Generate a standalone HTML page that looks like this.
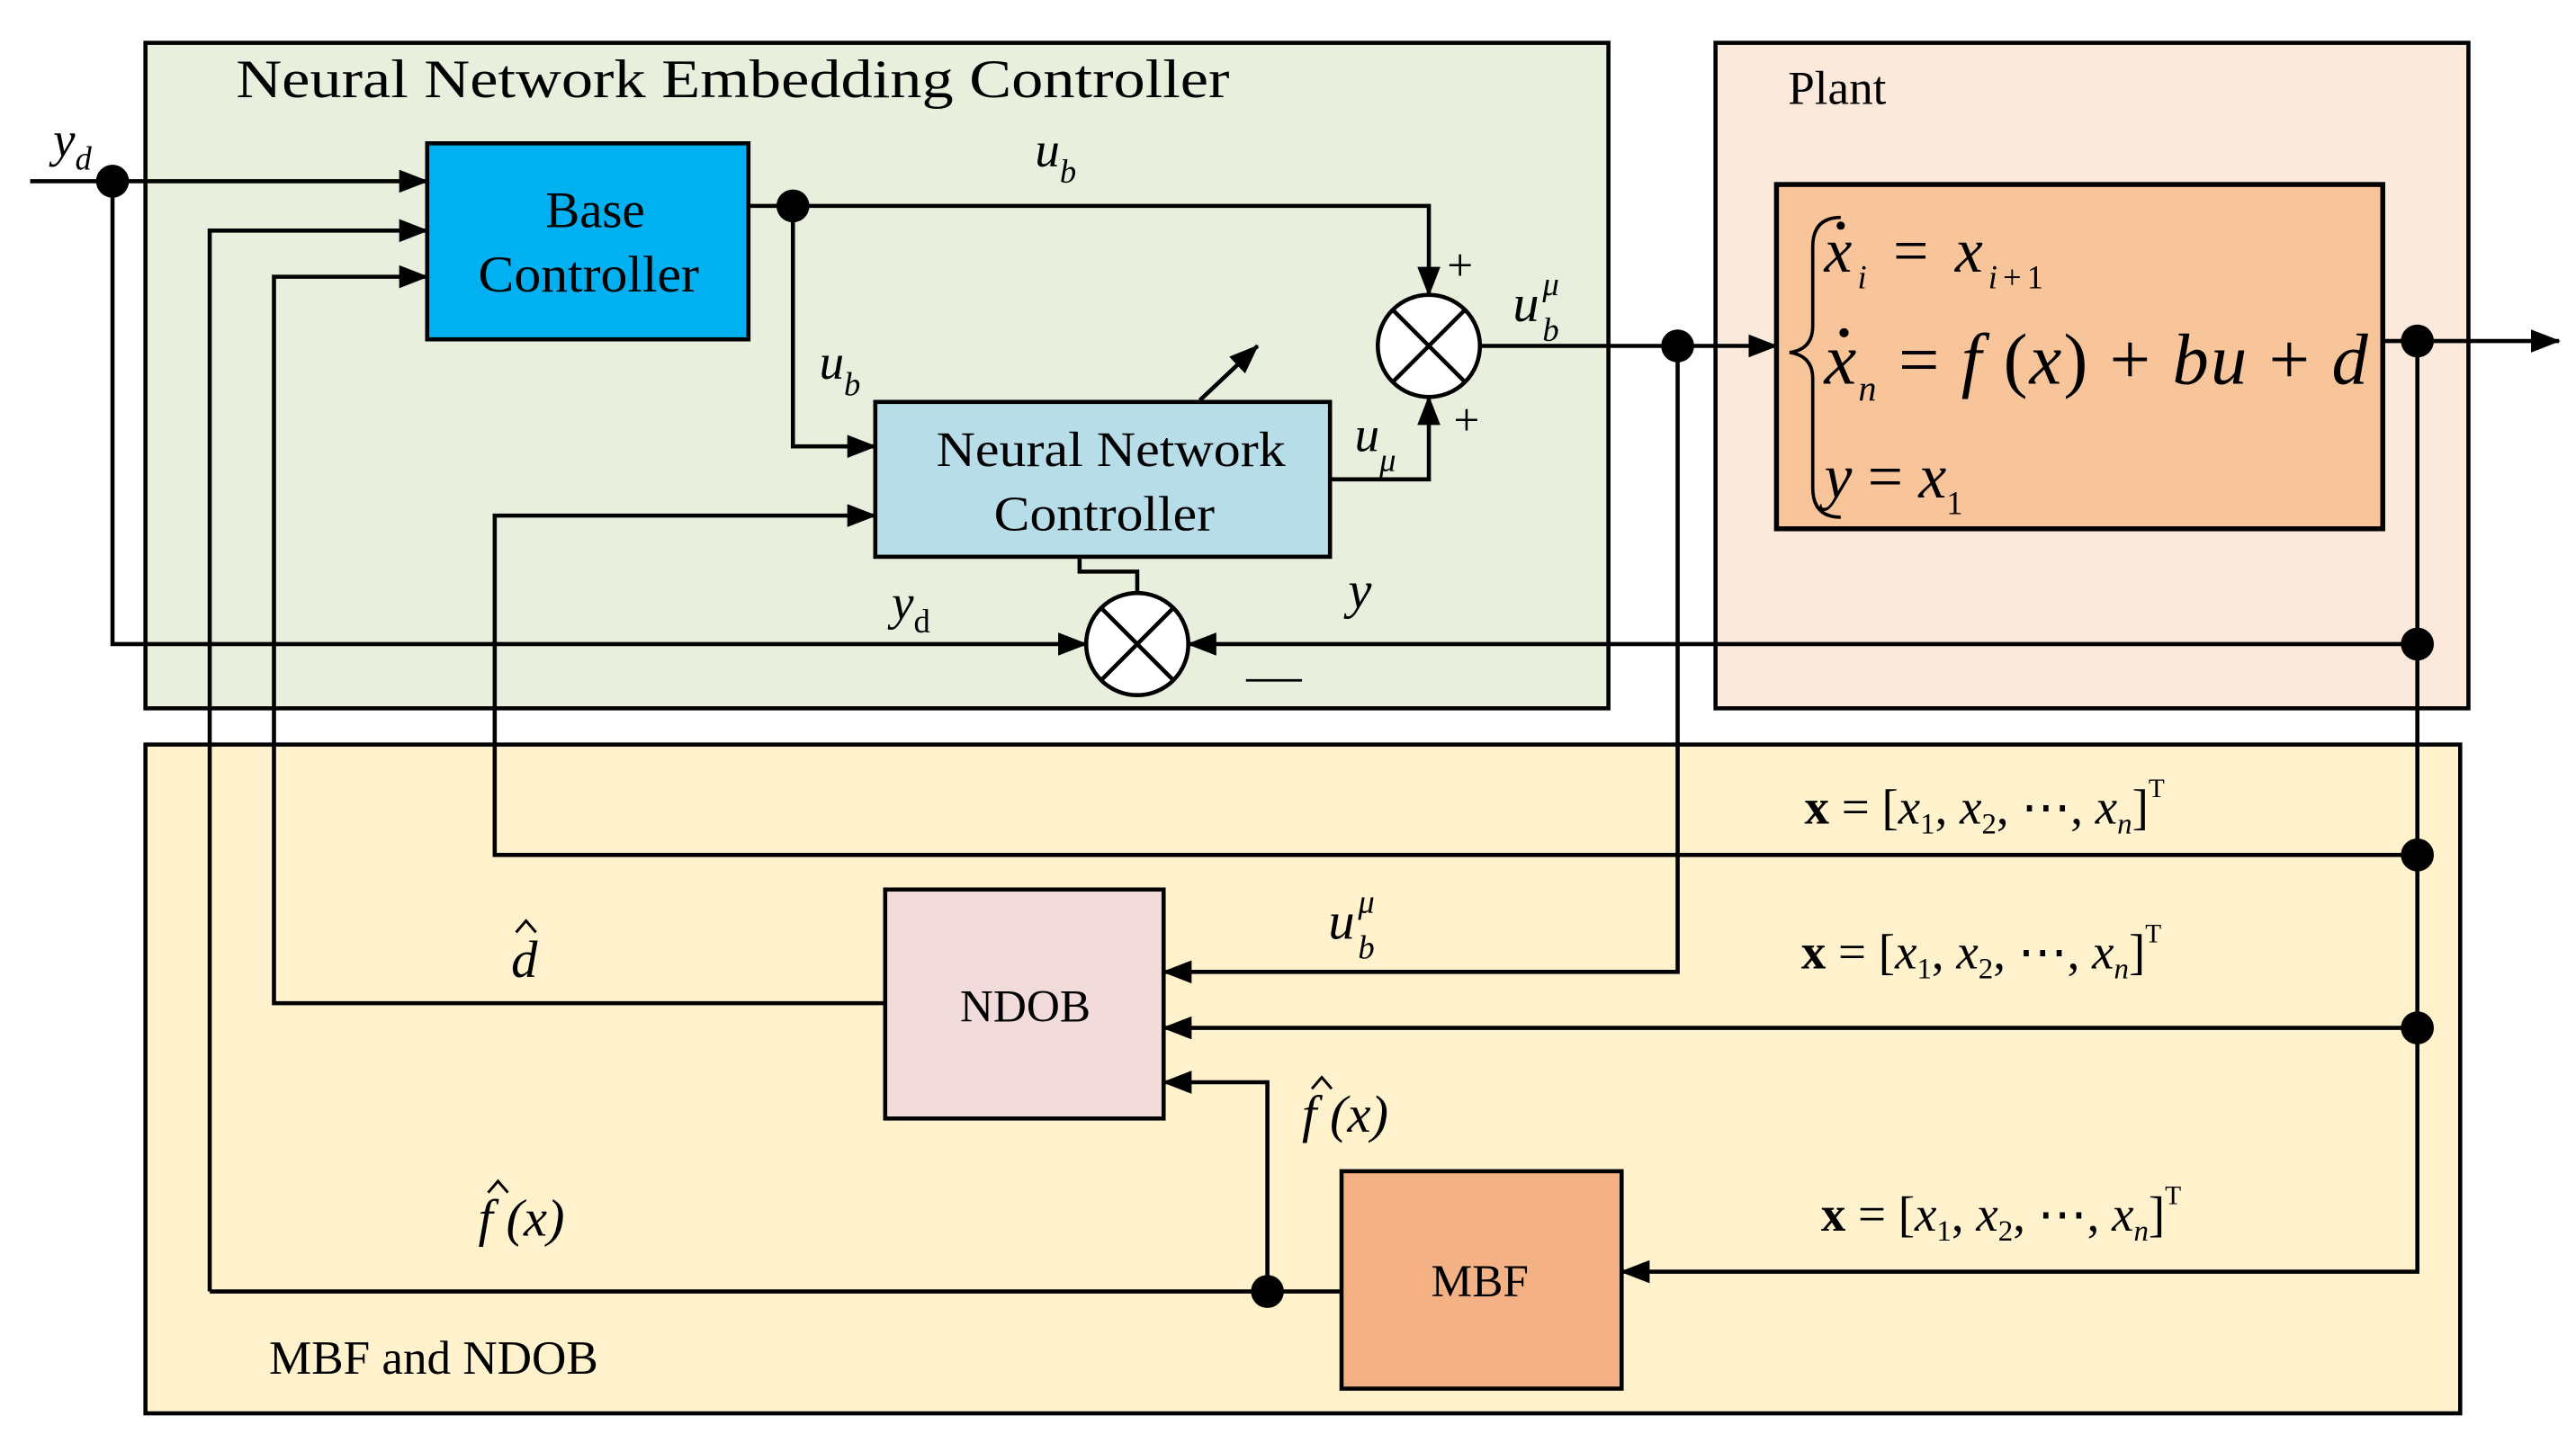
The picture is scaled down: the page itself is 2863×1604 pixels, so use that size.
<!DOCTYPE html>
<html><head><meta charset="utf-8"><style>
html,body{margin:0;padding:0;background:#fff;}
svg{display:block;}
text{font-family:"Liberation Serif",serif;fill:#000;}
.i{font-style:italic;}
</style></head><body>
<svg width="2863" height="1604" viewBox="0 0 1563 876" xmlns="http://www.w3.org/2000/svg">
<defs>
<marker id="a" markerWidth="18" markerHeight="14" refX="17" refY="7" orient="auto" markerUnits="userSpaceOnUse" viewBox="0 0 18 14">
<path d="M0,0 L18,7 L0,14 z" fill="#000"/></marker>
</defs>
<g>
<rect x="88" y="26" width="888" height="404" fill="#e9efdd" stroke="#000" stroke-width="2.5"/>
<rect x="1041" y="26" width="457" height="404" fill="#fbe9dc" stroke="#000" stroke-width="2.5"/>
<rect x="88" y="452" width="1405" height="406" fill="#fff2cc" stroke="#000" stroke-width="2.5"/>
<rect x="1078" y="112" width="368" height="209" fill="#f8c49a" stroke="#000" stroke-width="3"/>
<rect x="259" y="87" width="195" height="119" fill="#00b0f0" stroke="#000" stroke-width="2.5"/>
<rect x="531" y="244" width="276" height="94" fill="#b7dde8" stroke="#000" stroke-width="2.5"/>
<rect x="537" y="540" width="169" height="139" fill="#f2dcdb" stroke="#000" stroke-width="2.5"/>
<rect x="814" y="711" width="170" height="132" fill="#f4b183" stroke="#000" stroke-width="2.5"/>
</g>
<g fill="none" stroke="#000" stroke-width="2.5">
<path d="M18,110 H259" marker-end="url(#a)"/>
<path d="M127,784 V140 H259" marker-end="url(#a)"/>
<path d="M537,609 H166 V168 H259" marker-end="url(#a)"/>
<path d="M68,110 V391 H659" marker-end="url(#a)"/>
<path d="M454,125 H867 V179" marker-end="url(#a)"/>
<path d="M481,125 V271 H531" marker-end="url(#a)"/>
<path d="M807,291 H867 V241" marker-end="url(#a)"/>
<path d="M898,210 H1078" marker-end="url(#a)"/>
<path d="M1018,210 V590 H706" marker-end="url(#a)"/>
<path d="M1446,207 H1553" marker-end="url(#a)"/>
<path d="M1467,207 V772 H984" marker-end="url(#a)"/>
<path d="M1467,391 H721" marker-end="url(#a)"/>
<path d="M1467,519 H300 V313 H531" marker-end="url(#a)"/>
<path d="M1467,624 H706" marker-end="url(#a)"/>
<path d="M814,784 H127"/>
<path d="M769,784 V657 H706" marker-end="url(#a)"/>
<path d="M690,360 V347 H655 V338"/>
<path d="M728,243 L763,210" marker-end="url(#a)"/>
<circle cx="867" cy="210" r="31" fill="#fff"/>
<path d="M845,188 L889,232 M889,188 L845,232"/>
<circle cx="690" cy="391" r="31" fill="#fff"/>
<path d="M668,369 L712,413 M712,369 L668,413"/>
<path d="M756,413 H790" stroke-width="1.5"/>
</g>
<g fill="#000">
<circle cx="68" cy="110" r="10"/><circle cx="481" cy="125" r="10"/>
<circle cx="1018" cy="210" r="10"/><circle cx="1467" cy="207" r="10"/>
<circle cx="1467" cy="391" r="10"/><circle cx="1467" cy="519" r="10"/>
<circle cx="1467" cy="624" r="10"/><circle cx="769" cy="784" r="10"/>
</g>
<text x="143" y="59" font-size="33" textLength="603" lengthAdjust="spacingAndGlyphs">Neural Network Embedding Controller</text>
<text x="1085" y="63" font-size="29">Plant</text>
<text x="361" y="138" font-size="31" text-anchor="middle">Base</text>
<text x="357" y="177" font-size="31" text-anchor="middle" textLength="134" lengthAdjust="spacingAndGlyphs">Controller</text>
<text x="674" y="283" font-size="30" text-anchor="middle" textLength="212" lengthAdjust="spacingAndGlyphs">Neural Network</text>
<text x="670" y="322" font-size="30" text-anchor="middle" textLength="134" lengthAdjust="spacingAndGlyphs">Controller</text>
<text x="622" y="620" font-size="28" text-anchor="middle">NDOB</text>
<text x="898" y="787" font-size="28" text-anchor="middle">MBF</text>
<text x="163" y="834" font-size="29">MBF and NDOB</text>
<text class="i" x="32" y="95" font-size="30">y<tspan font-size="20" dy="8">d</tspan></text>
<text class="i" x="628" y="101" font-size="30">u<tspan font-size="20" dy="10">b</tspan></text>
<text class="i" x="497" y="230" font-size="30">u<tspan font-size="20" dy="10">b</tspan></text>
<text class="i" x="918" y="195" font-size="32">u<tspan font-size="20" dx="2" dy="12">b</tspan><tspan font-size="20" dx="-10" dy="-28">μ</tspan></text>
<text class="i" x="822" y="274" font-size="30">u<tspan font-size="20" dy="12">μ</tspan></text>
<text x="878" y="170" font-size="28">+</text>
<text x="882" y="264" font-size="28">+</text>
<text class="i" x="541" y="376" font-size="30">y<tspan font-size="20" font-style="normal" dy="8">d</tspan></text>
<text class="i" x="818" y="369" font-size="32">y</text>
<text class="i" x="806" y="570" font-size="32">u<tspan font-size="20" dx="2" dy="12">b</tspan><tspan font-size="20" dx="-10" dy="-28">μ</tspan></text>
<text class="i" x="310" y="593" font-size="32">d</text>
<path d="M313,566 L319,559 L325,566" fill="none" stroke="#000" stroke-width="1.6"/>
<text class="i" x="790" y="687" font-size="32">f (x)</text>
<path d="M796,661 L802,654 L808,661" fill="none" stroke="#000" stroke-width="1.6"/>
<text class="i" x="290" y="750" font-size="32">f (x)</text>
<path d="M296,724 L302,717 L308,724" fill="none" stroke="#000" stroke-width="1.6"/>
<text x="1095" y="500" font-size="30"><tspan font-weight="bold">x</tspan> = [<tspan class="i">x</tspan><tspan font-size="18" dy="6">1</tspan><tspan dy="-6">, </tspan><tspan class="i">x</tspan><tspan font-size="18" dy="6">2</tspan><tspan dy="-6">, ⋯, </tspan><tspan class="i">x</tspan><tspan class="i" font-size="18" dy="6">n</tspan><tspan dy="-6">]</tspan><tspan font-size="16" dy="-16">T</tspan></text>
<text x="1093" y="588" font-size="30"><tspan font-weight="bold">x</tspan> = [<tspan class="i">x</tspan><tspan font-size="18" dy="6">1</tspan><tspan dy="-6">, </tspan><tspan class="i">x</tspan><tspan font-size="18" dy="6">2</tspan><tspan dy="-6">, ⋯, </tspan><tspan class="i">x</tspan><tspan class="i" font-size="18" dy="6">n</tspan><tspan dy="-6">]</tspan><tspan font-size="16" dy="-16">T</tspan></text>
<text x="1105" y="747" font-size="30"><tspan font-weight="bold">x</tspan> = [<tspan class="i">x</tspan><tspan font-size="18" dy="6">1</tspan><tspan dy="-6">, </tspan><tspan class="i">x</tspan><tspan font-size="18" dy="6">2</tspan><tspan dy="-6">, ⋯, </tspan><tspan class="i">x</tspan><tspan class="i" font-size="18" dy="6">n</tspan><tspan dy="-6">]</tspan><tspan font-size="16" dy="-16">T</tspan></text>
<path d="M1117,132 Q1100,132 1100,150 V198 Q1100,212 1086,214 Q1100,216 1100,230 V296 Q1100,314 1117,314" fill="none" stroke="#000" stroke-width="2"/>
<text class="i" x="1107" y="165" font-size="38" textLength="133" lengthAdjust="spacing">x<tspan font-size="20" dy="10">i</tspan><tspan font-style="normal" dy="-10"> = </tspan>x<tspan font-size="20" dy="10">i</tspan><tspan font-size="20" font-style="normal">+1</tspan></text>
<circle cx="1117" cy="137" r="2.5" fill="#000"/>
<text class="i" x="1107" y="233" font-size="44" textLength="330" lengthAdjust="spacing">x<tspan font-size="22" dy="10">n</tspan><tspan font-style="normal" dy="-10"> = </tspan>f<tspan font-style="normal"> (</tspan>x<tspan font-style="normal">) + </tspan>bu<tspan font-style="normal"> + </tspan>d</text>
<circle cx="1119" cy="202" r="2.8" fill="#000"/>
<text class="i" x="1107" y="302" font-size="38">y<tspan font-style="normal"> = </tspan>x<tspan font-size="20" font-style="normal" dy="10">1</tspan></text>
</svg>
</body></html>
